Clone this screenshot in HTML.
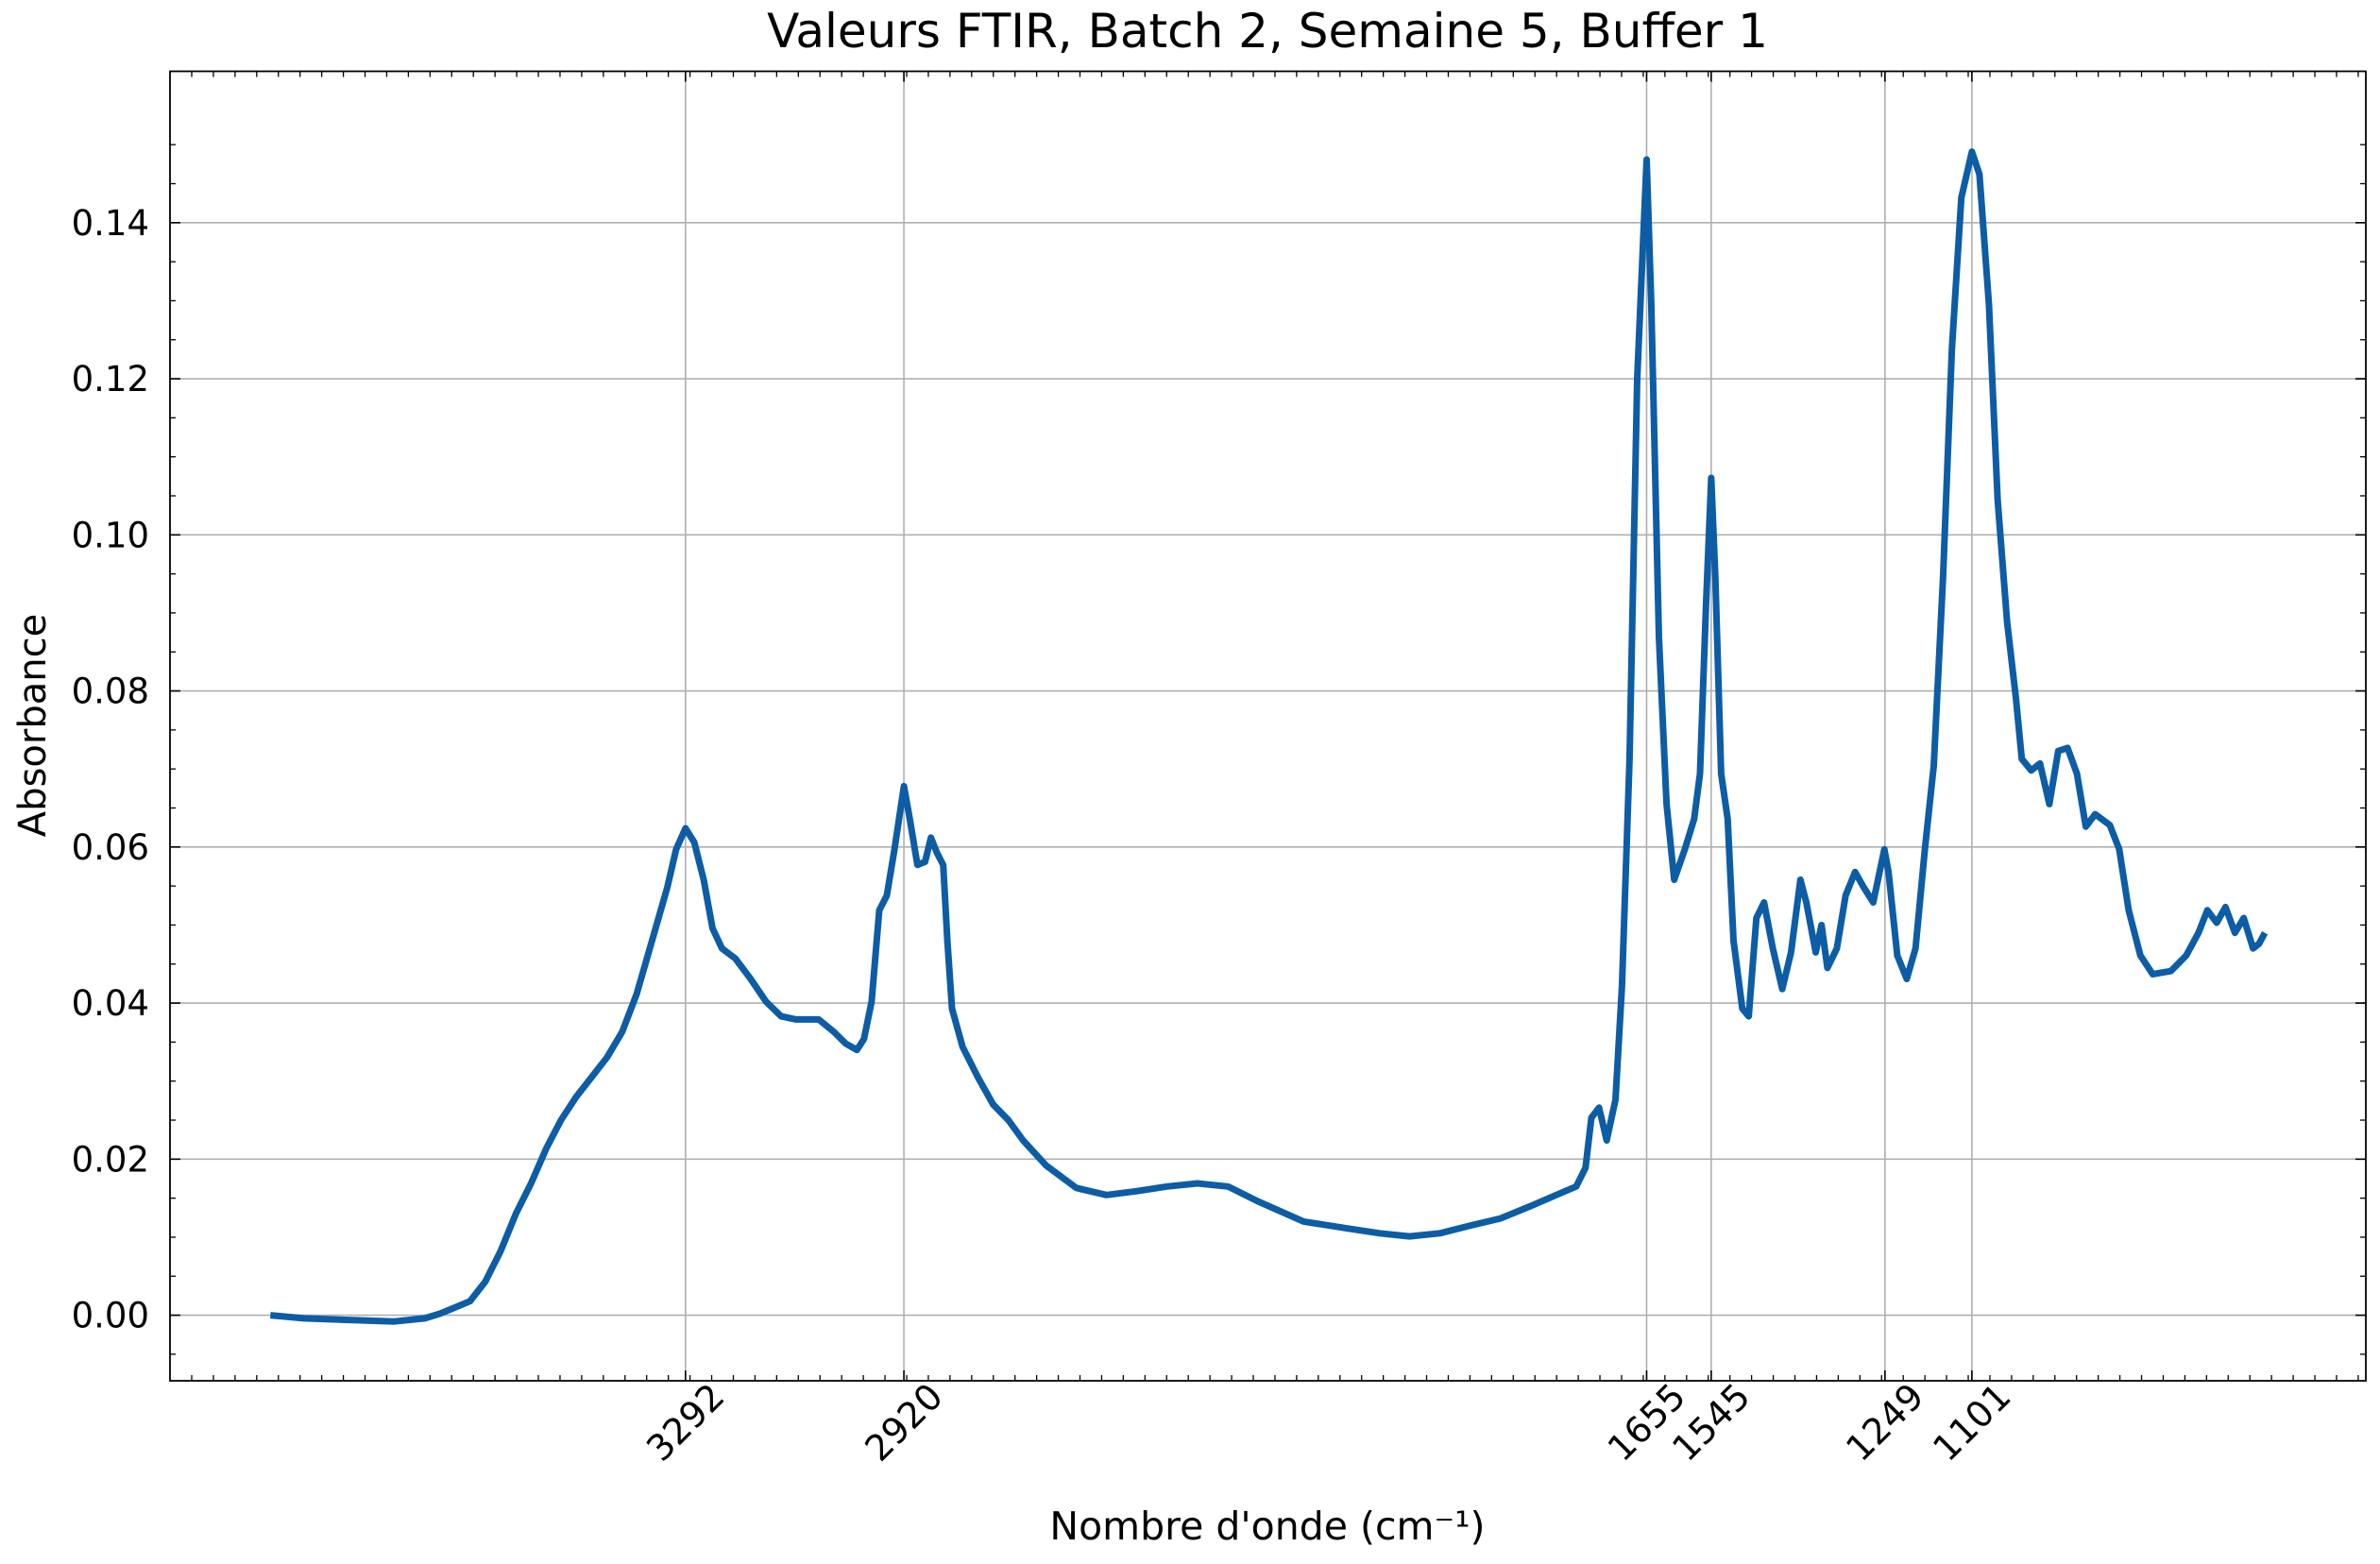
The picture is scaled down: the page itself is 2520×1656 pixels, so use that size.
<!DOCTYPE html>
<html><head><meta charset="utf-8"><style>
html,body{margin:0;padding:0;background:#fff}
svg{display:block;font-family:"DejaVu Sans","Liberation Sans",sans-serif}
</style></head><body>
<svg id="chart" width="2520" height="1656" viewBox="0 0 2520 1656" xmlns="http://www.w3.org/2000/svg">
<rect width="2520" height="1656" fill="#fff"/>
<text x="1342" y="50" font-size="50" text-anchor="middle">Valeurs FTIR, Batch 2, Semaine 5, Buffer 1</text>
<g id="grid"></g>
<g id="series"></g>
<g id="axes"></g>
<text x="1342" y="1630" font-size="41" text-anchor="middle">Nombre d'onde (cm⁻¹)</text>
<text x="0" y="0" font-size="40" text-anchor="middle" transform="translate(48,768) rotate(-90)">Absorbance</text>
</svg>
<script>
const wavenumbers=[3999,3942,3865,3788,3736,3710,3684,3659,3633,3607,3581,3555,3529,3504,3478,3452,3426,3400,3375,3349,3323,3308,3292,3277,3261,3246,3230,3207,3181,3155,3129,3104,3065,3039,3019,3000,2988,2975,2962,2949,2936,2920,2910,2897,2884,2874,2864,2853,2846,2838,2820,2794,2768,2742,2717,2678,2626,2575,2523,2472,2420,2368,2317,2239,2162,2110,2059,2007,1955,1904,1852,1800,1775,1759,1749,1736,1723,1708,1697,1684,1671,1655,1647,1634,1621,1608,1590,1574,1564,1554,1545,1538,1528,1517,1507,1492,1481,1468,1455,1440,1424,1409,1393,1383,1367,1357,1347,1331,1316,1300,1285,1269,1250,1243,1228,1212,1197,1181,1166,1150,1135,1119,1101,1088,1072,1057,1041,1026,1016,1000,985,969,954,938,922,907,891,866,850,834,814,793,762,736,715,700,684,669,653,638,622,612,602];
const absorbance=[0,-0.0004,-0.0006,-0.0008,-0.0004,0.0002,0.001,0.0018,0.0043,0.0082,0.013,0.0169,0.0214,0.025,0.028,0.0305,0.033,0.0363,0.0412,0.048,0.0548,0.0597,0.0624,0.0606,0.0558,0.0496,0.047,0.0457,0.0431,0.0402,0.0383,0.0379,0.0379,0.0363,0.0348,0.034,0.0354,0.0402,0.0519,0.0538,0.0597,0.0678,0.0636,0.0577,0.0581,0.0612,0.0593,0.0577,0.048,0.0393,0.0344,0.0305,0.027,0.025,0.0224,0.0192,0.0163,0.0154,0.0159,0.0165,0.0169,0.0165,0.0146,0.012,0.0111,0.0105,0.0101,0.0105,0.0115,0.0124,0.014,0.0157,0.0165,0.0189,0.0253,0.0266,0.0224,0.0276,0.0422,0.0713,0.12,0.1481,0.1296,0.0869,0.0655,0.0558,0.0597,0.0636,0.0694,0.0908,0.1073,0.0947,0.0694,0.0636,0.048,0.0393,0.0383,0.0509,0.0529,0.047,0.0418,0.0465,0.0558,0.0529,0.0465,0.05,0.0445,0.047,0.0538,0.0568,0.0548,0.0529,0.0597,0.0568,0.0461,0.0431,0.047,0.0597,0.0704,0.0947,0.1238,0.1432,0.1491,0.1462,0.1296,0.1044,0.0888,0.0791,0.0713,0.0698,0.0707,0.0655,0.0723,0.0727,0.0694,0.0626,0.0642,0.0628,0.0597,0.0519,0.0461,0.0437,0.0441,0.0461,0.049,0.0519,0.0503,0.0523,0.049,0.0509,0.047,0.0476,0.049];
const xTickValues=[3292,2920,1655,1545,1249,1101];
const xTickLabels=["3292","2920","1655","1545","1249","1101"];
const yTickValues=[0,0.02,0.04,0.06,0.08,0.10,0.12,0.14];
const yTickLabels=["0.00","0.02","0.04","0.06","0.08","0.10","0.12","0.14"];

const L=180,R=2505,T=75.5,B=1462;
const XMIN=4170,XMAX=430,YMIN=-0.0084,YMAX=0.1594;
function xs(w){return L+(XMIN-w)/(XMIN-XMAX)*(R-L);}
function ys(a){return B-(a-YMIN)/(YMAX-YMIN)*(B-T);}
const NS="http://www.w3.org/2000/svg";
function mk(tag,attrs,parent){const e=document.createElementNS(NS,tag);for(const k in attrs)e.setAttribute(k,attrs[k]);parent.appendChild(e);return e;}
const grid=document.getElementById('grid'),axes=document.getElementById('axes'),series=document.getElementById('series');

yTickValues.forEach((v,i)=>{
  const y=ys(v);
  const g=mk('line',{x1:L,x2:R,y1:y,y2:y,stroke:'#b0b0b0','stroke-width':1.6},grid);
  
  
  const t1=mk('line',{x1:L,x2:L+11,y1:y,y2:y,stroke:'#000','stroke-width':1.6},axes);
  
  
  const t2=mk('line',{x1:R,x2:R-11,y1:y,y2:y,stroke:'#000','stroke-width':1.6},axes);
  
  
  const tx=mk('text',{x:L-22,y:y+13,'font-size':37,'text-anchor':'end'},axes);
  tx.textContent=yTickLabels[i];
  
  
});
for(let v=-0.005;v<=0.155;v+=0.005){
  if(Math.abs(Math.round(v/0.02)*0.02-v)<1e-6)continue;
  const y=ys(v);
  const a=mk('line',{x1:L,x2:L+6,y1:y,y2:y,stroke:'#000','stroke-width':1.3},axes);
  
  
  const b=mk('line',{x1:R,x2:R-6,y1:y,y2:y,stroke:'#000','stroke-width':1.3},axes);
  
  
}
xTickValues.forEach((v,i)=>{
  const x=xs(v);
  const g=mk('line',{x1:x,x2:x,y1:T,y2:B,stroke:'#b0b0b0','stroke-width':1.6},grid);
  
  
  const t1=mk('line',{x1:x,x2:x,y1:B,y2:B-11,stroke:'#000','stroke-width':1.6},axes);
  
  
  const t2=mk('line',{x1:x,x2:x,y1:T,y2:T+11,stroke:'#000','stroke-width':1.6},axes);
  
  
  const tx=mk('text',{x:0,y:13,'font-size':38,'text-anchor':'middle',transform:`translate(${x},${1506}) rotate(-45)`},axes);
  tx.textContent=xTickLabels[i];
  
  
});
for(let w=4133;w>XMAX;w-=36.9){
  const x=xs(w);
  const a=mk('line',{x1:x,x2:x,y1:B,y2:B-6,stroke:'#000','stroke-width':1.3},axes);
  
  
  const b=mk('line',{x1:x,x2:x,y1:T,y2:T+6,stroke:'#000','stroke-width':1.3},axes);
  
  
}
const frame=mk('rect',{x:L,y:T,width:R-L,height:B-T,fill:'none',stroke:'#000','stroke-width':1.8},axes);



let d='';
wavenumbers.forEach((w,i)=>{d+=(i?'L':'M')+xs(w).toFixed(1)+','+ys(absorbance[i]).toFixed(1);});
const p=mk('path',{d:d,fill:'none',stroke:'#0C5DA5','stroke-width':7,'stroke-linejoin':'round','stroke-linecap':'butt'},series);


</script>
</body></html>
